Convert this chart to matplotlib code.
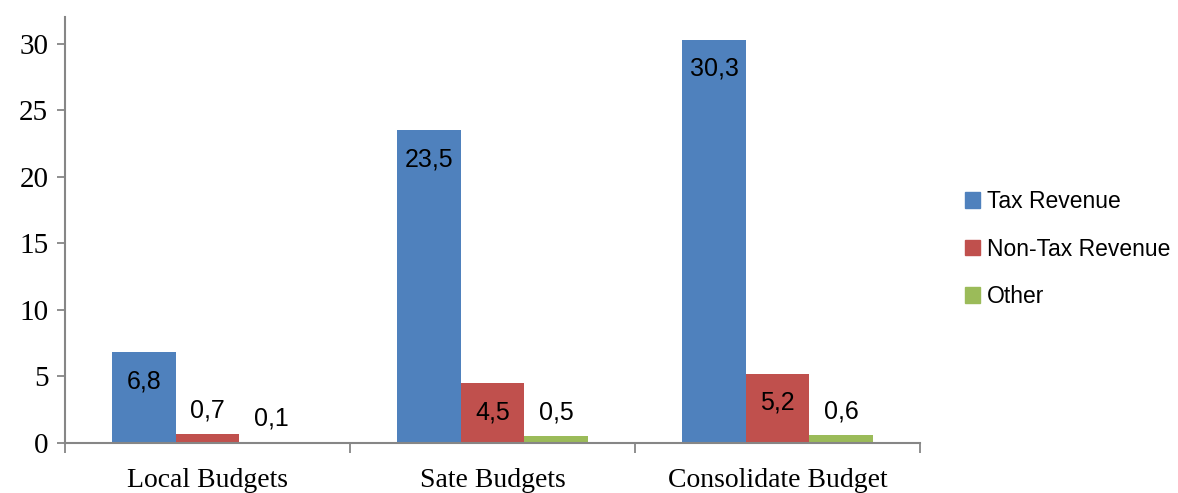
import numpy as np
import matplotlib
matplotlib.use('Agg')
import matplotlib.pyplot as plt
from matplotlib.patches import Patch

categories = ["Local Budgets", "Sate Budgets", "Consolidate Budget"]
series = ["Tax Revenue", "Non-Tax Revenue", "Other"]
tax = [6.8, 23.5, 30.3]
non_tax = [0.7, 4.5, 5.2]
other = [0.1, 0.5, 0.6]
y_ticks = [0, 5, 10, 15, 20, 25, 30]

colors = ["#4F81BD", "#C0504D", "#9BBB59"]
axis_col = "#868686"
serif = "Liberation Serif"
sans = "Liberation Sans"

fig = plt.figure(figsize=(11.78, 4.93), dpi=100)
ax = fig.add_axes([65 / 1178, 50 / 493, (920 - 65) / 1178, (476 - 50) / 493])

x = np.arange(len(categories))
w = 0.223
for i, (vals, c) in enumerate(zip([tax, non_tax, other], colors)):
    xs = x + (i - 1) * w
    ax.bar(xs, vals, width=w, color=c, edgecolor="none")
    for xi, v in zip(xs, vals):
        lab = f"{v:.1f}".replace(".", ",")
        # big bars get the label inside, small ones above
        off = -21 if v > 3 else 17
        ax.annotate(lab, (xi, v), xytext=(0, off), textcoords="offset points",
                    ha="center", va="center", fontsize=18, family=sans)

ax.set_xlim(-0.5, 2.5)
ax.set_ylim(0, 32)
ax.set_yticks(y_ticks)
ax.set_yticklabels([str(t) for t in y_ticks], family=serif, fontsize=21)
ax.set_xticks(x)
ax.set_xticklabels(categories, family=serif, fontsize=20)
ax.set_xticks(np.arange(-0.5, 3, 1), minor=True)
ax.tick_params(axis="x", which="major", length=0, pad=18)
ax.tick_params(axis="x", which="minor", length=7, width=1.3, color=axis_col)
ax.tick_params(axis="y", length=6, width=1.3, color=axis_col, pad=6)

for s in ["top", "right"]:
    ax.spines[s].set_visible(False)
for s in ["left", "bottom"]:
    ax.spines[s].set_color(axis_col)
    ax.spines[s].set_linewidth(1.5)

handles = [Patch(color=c) for c in colors]
ax.legend(handles, series, loc="center left", bbox_to_anchor=(1.029, 0.455),
          frameon=False, prop={"family": sans, "size": 16.5},
          handlelength=0.65, handleheight=0.65, handletextpad=0.3,
          labelspacing=1.07)

fig.savefig("out.png", dpi=100)
